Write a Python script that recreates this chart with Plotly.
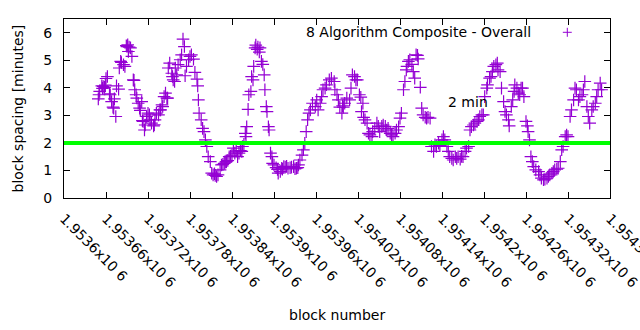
import plotly.graph_objects as go

# ---------------- data ----------------
block = [
    1953649, 1953650, 1953651, 1953654, 1953655, 1953656, 1953658, 1953659, 1953660, 1953662,
    1953665, 1953666, 1953668, 1953670, 1953671, 1953672, 1953674, 1953675, 1953678, 1953679,
    1953681, 1953682, 1953685, 1953687, 1953689, 1953690, 1953691, 1953692, 1953693, 1953695,
    1953697, 1953699, 1953700, 1953701, 1953703, 1953704, 1953706, 1953708, 1953709, 1953711,
    1953712, 1953713, 1953715, 1953716, 1953718, 1953720, 1953722, 1953723, 1953725, 1953728,
    1953729, 1953730, 1953732, 1953735, 1953737,
    1953738, 1953740, 1953741, 1953743, 1953745, 1953747, 1953748, 1953749, 1953751, 1953754,
    1953755, 1953756, 1953758, 1953759, 1953761, 1953763, 1953766, 1953768, 1953770, 1953772,
    1953773, 1953775, 1953778, 1953780, 1953782, 1953785, 1953787, 1953790, 1953791, 1953792,
    1953793, 1953796, 1953798, 1953800, 1953802, 1953804, 1953806, 1953809, 1953811, 1953813,
    1953815, 1953816, 1953818, 1953820, 1953823, 1953825, 1953827, 1953829, 1953831, 1953832,
    1953834, 1953836, 1953838, 1953840, 1953842, 1953844, 1953846, 1953848, 1953850, 1953852,
    1953854, 1953855, 1953857, 1953859,
    1953860, 1953861, 1953863, 1953864, 1953867, 1953868, 1953870, 1953871, 1953873, 1953874,
    1953876, 1953877, 1953879, 1953880, 1953882, 1953884, 1953886, 1953887, 1953889, 1953890,
    1953892, 1953893, 1953895, 1953897, 1953898, 1953900, 1953903, 1953905, 1953906, 1953909,
    1953911, 1953912, 1953914, 1953916, 1953918, 1953920, 1953923, 1953925, 1953928, 1953930,
    1953932, 1953934, 1953935, 1953937, 1953940, 1953942, 1953944, 1953946, 1953948, 1953950,
    1953952, 1953955, 1953959, 1953961, 1953963,
    1953966, 1953968, 1953970, 1953973, 1953975, 1953979, 1953982, 1953986, 1953987, 1953990,
    1953992, 1953994, 1953997, 1953998, 1953999, 1954001, 1954004, 1954008, 1954010, 1954012,
    1954015, 1954017, 1954019, 1954022, 1954024, 1954025, 1954027, 1954028, 1954030, 1954033,
    1954035, 1954037, 1954040, 1954041, 1954044, 1954047, 1954049, 1954051, 1954054, 1954056,
    1954059, 1954061, 1954063, 1954066, 1954068, 1954070, 1954073, 1954075, 1954078, 1954080,
    1954082, 1954085, 1954087, 1954089, 1954090, 1954092, 1954094, 1954097, 1954099, 1954101,
    1954103, 1954105, 1954106, 1954109,
    1954111, 1954113, 1954116, 1954118, 1954120, 1954123, 1954125, 1954128, 1954130, 1954132,
    1954135, 1954137, 1954140, 1954142, 1954144, 1954147, 1954149, 1954151, 1954154, 1954156,
    1954159, 1954161, 1954163, 1954166, 1954168, 1954170, 1954173, 1954175, 1954178, 1954180,
    1954182, 1954185, 1954187, 1954190, 1954192, 1954194, 1954197, 1954199, 1954201, 1954204,
    1954205, 1954208, 1954210, 1954212, 1954214, 1954217, 1954219, 1954220, 1954223, 1954225,
    1954228, 1954230, 1954232, 1954235, 1954236, 1954239, 1954241, 1954243, 1954244, 1954247,
    1954249, 1954251,
    1954253, 1954255, 1954257, 1954260, 1954262, 1954263, 1954265, 1954267, 1954269, 1954271,
    1954274, 1954278, 1954280, 1954282, 1954285, 1954287, 1954290, 1954292, 1954294, 1954297,
    1954299, 1954301, 1954304, 1954306, 1954309, 1954311, 1954313, 1954316, 1954318, 1954320,
    1954323, 1954325, 1954328, 1954330, 1954332, 1954335, 1954337, 1954340, 1954342, 1954344,
    1954347, 1954349, 1954351, 1954354, 1954356, 1954359, 1954361, 1954363, 1954366, 1954368,
]

spacing = [
    3.60, 3.75, 3.87, 4.07, 3.98, 4.05, 4.02, 4.10, 4.34, 4.41,
    3.78, 3.75, 3.50, 3.30, 3.26, 3.60, 2.96, 4.07, 3.95, 4.72,
    4.96, 4.92, 4.84, 4.78, 5.53, 5.50, 5.56, 5.32, 5.48, 5.45,
    5.14, 4.29, 4.27, 3.93, 3.75, 3.63, 3.44, 3.26, 3.18, 3.50,
    2.81, 2.78, 2.47, 2.65, 2.96, 3.08, 3.02, 2.84, 2.72, 2.62,
    2.66, 2.84, 3.08, 3.02, 3.20,
    3.20, 3.38, 3.32, 3.68, 3.81, 3.63, 3.63, 4.72, 4.90, 4.53,
    4.41, 4.29, 4.23, 4.72, 4.47, 4.84, 5.02, 5.20, 5.77, 5.50,
    4.44, 4.78, 5.02, 5.14, 5.20, 5.04, 4.56, 4.32, 4.07, 3.56,
    3.08, 2.84, 2.53, 2.41, 2.11, 1.87, 1.50, 1.32, 0.90, 0.84,
    0.88, 0.82, 0.78, 0.84, 1.02, 1.20, 1.22, 1.26, 1.30, 1.32,
    1.36, 1.50, 1.52, 1.56, 1.81, 1.63, 1.70, 1.50, 1.63, 1.72,
    1.69, 1.87, 1.95, 2.35,
    2.23, 2.59, 3.22, 3.75, 3.87, 4.41, 4.29, 4.78, 5.45, 5.55,
    5.40, 5.48, 5.30, 5.45, 4.96, 4.85, 4.47, 3.93, 3.32, 3.14,
    2.59, 2.47, 1.63, 1.50, 1.26, 1.20, 1.10, 1.04, 0.90, 0.96,
    1.08, 1.05, 1.14, 1.12, 1.15, 1.08, 1.10, 1.12, 1.14, 1.06,
    1.08, 1.10, 1.20, 1.38, 1.56, 1.75, 1.99, 2.41, 2.84, 3.08,
    3.20, 3.44, 3.32, 3.56, 3.20,
    3.44, 3.68, 3.93, 3.99, 4.11, 4.29, 4.35, 4.23, 3.93, 3.75,
    3.56, 3.30, 3.08, 3.35, 3.30, 3.44, 3.63, 3.56, 3.99, 4.47,
    4.41, 4.29, 4.29, 3.75, 3.66, 3.14, 3.44, 2.93, 2.84, 2.72,
    2.35, 2.29, 2.23, 2.41, 2.53, 2.72, 2.60, 2.41, 2.60, 2.65,
    2.60, 2.47, 2.53, 2.35, 2.29, 2.23, 2.35, 2.47, 2.59, 2.90,
    3.08, 3.93, 4.23, 4.65, 4.78, 4.96, 5.02, 4.85, 4.59, 4.35,
    5.20, 5.18, 5.05, 4.02,
    3.26, 3.02, 2.93, 2.90, 2.93, 2.90, 1.87, 1.69, 1.93, 1.87,
    1.99, 1.90, 2.11, 2.23, 2.11, 1.87, 1.69, 1.50, 1.44, 1.38,
    1.50, 1.44, 1.50, 1.41, 1.51, 1.50, 1.69, 1.81, 1.87, 2.47,
    2.59, 2.65, 2.72, 2.78, 2.84, 2.96, 3.02, 3.02, 3.68, 3.99,
    4.11, 4.35, 4.41, 4.59, 4.78, 4.84, 4.90, 4.65, 4.59, 3.99,
    3.50, 3.14, 3.02, 2.84, 2.62, 3.32, 3.56, 3.87, 4.11, 3.99,
    3.81, 3.75,
    3.99, 3.99, 3.68, 2.78, 2.62, 2.41, 2.11, 1.50, 1.32, 1.14,
    1.02, 0.96, 0.84, 0.72, 0.66, 0.68, 0.72, 0.78, 0.84, 0.90,
    0.96, 1.02, 1.05, 1.08, 1.32, 1.75, 1.87, 2.23, 2.29, 2.23,
    2.96, 3.20, 3.56, 3.99, 3.93, 3.56, 3.68, 3.75, 3.93, 4.23,
    3.32, 2.96, 2.72, 3.20, 3.32, 3.44, 3.68, 3.93, 4.17, 3.93,
]

x_tickvals = [1953600 + 60 * i for i in range(14)]
x_ticktext = [
    "1.9536x10 6", "1.95366x10 6", "1.95372x10 6", "1.95378x10 6", "1.95384x10 6",
    "1.9539x10 6", "1.95396x10 6", "1.95402x10 6", "1.95408x10 6", "1.95414x10 6",
    "1.9542x10 6", "1.95426x10 6", "1.95432x10 6", "1.95438x10 6",
]
y_tickvals = [0, 1, 2, 3, 4, 5, 6]
x_range = [1953600, 1954380]
y_range = [0, 6.5]
target_minutes = 2
series_name = "8 Algorithm Composite - Overall"
label_text = "2 min"
label_pos = (1954146, 3.5)

PURPLE = "#9400d3"
GREEN = "#00ff00"
FONT = "DejaVu Sans"
FS = 14

fig = go.Figure()
fig.add_trace(go.Scatter(
    x=block, y=spacing, mode="markers", name=series_name, showlegend=False,
    marker=dict(symbol="cross-thin-open", size=9, color=PURPLE,
                line=dict(color=PURPLE, width=1.2)),
))

axis_common = dict(showline=True, linecolor="black", linewidth=1, mirror="ticks",
                   ticks="inside", ticklen=6, tickcolor="black", showgrid=False,
                   zeroline=False, tickfont=dict(family=FONT, size=FS, color="black"))

fig.update_xaxes(range=x_range, tickvals=x_tickvals, ticktext=x_ticktext,
                 tickangle=45, ticklabelstandoff=6, ticklabeloverflow="allow",
                 **axis_common)
fig.update_yaxes(range=y_range, tickvals=y_tickvals, ticklabelstandoff=8, **axis_common)

shapes = [
    dict(type="line", xref="paper", x0=0, x1=1, yref="y", y0=target_minutes, y1=target_minutes,
         line=dict(color=GREEN, width=4), layer="above"),
    # legend key "+"
    dict(type="line", xref="paper", yref="paper", x0=0.9136, x1=0.9300, y0=0.9257, y1=0.9257,
         line=dict(color=PURPLE, width=1)),
    dict(type="line", xref="paper", yref="paper", x0=0.9218, x1=0.9218, y0=0.9006, y1=0.9508,
         line=dict(color=PURPLE, width=1)),
]

annotations = [
    dict(text=series_name, xref="paper", yref="paper", x=0.859, y=0.927,
         xanchor="right", yanchor="middle", showarrow=False,
         font=dict(family=FONT, size=FS, color="black")),
    dict(text=label_text, xref="x", yref="y", x=label_pos[0], y=label_pos[1],
         xanchor="left", yanchor="middle", showarrow=False,
         font=dict(family=FONT, size=FS, color="black")),
    dict(text="block number", xref="paper", yref="paper", x=0.5, y=0, yshift=-117,
         xanchor="center", yanchor="middle", showarrow=False,
         font=dict(family=FONT, size=FS, color="black")),
    dict(text="block spacing [minutes]", xref="paper", yref="paper", x=0, y=0.5, xshift=-47,
         xanchor="center", yanchor="middle", textangle=-90, showarrow=False,
         font=dict(family=FONT, size=FS, color="black")),
]

fig.update_layout(
    width=640, height=330,
    margin=dict(l=64, r=30, t=19, b=132, autoexpand=False),
    paper_bgcolor="white", plot_bgcolor="white",
    shapes=shapes, annotations=annotations, showlegend=False,
    font=dict(family=FONT, size=FS, color="black"),
)

fig.write_html("out.html")
